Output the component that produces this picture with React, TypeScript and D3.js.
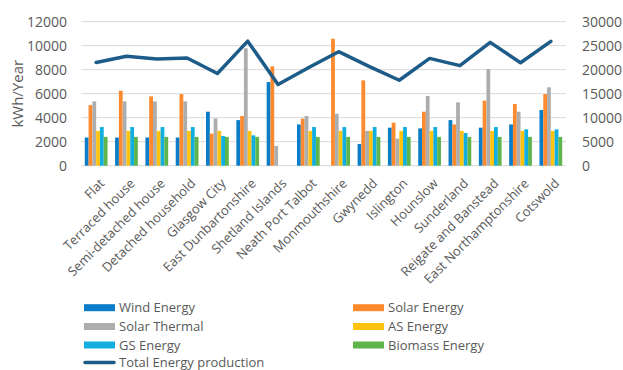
import React from "react";
import * as d3 from "d3";

const categories = [
  "Flat",
  "Terraced house",
  "Semi-detached house",
  "Detached household",
  "Glasgow City",
  "East Dunbartonshire",
  "Shetland Islands",
  "Neath Port Talbot",
  "Monmouthshire",
  "Gwynedd",
  "Islington",
  "Hounslow",
  "Sunderland",
  "Reigate and Banstead",
  "East Northamptonshire",
  "Cotswold",
];

const windEnergy = [2350, 2350, 2350, 2350, 4500, 3800, 6970, 3440, 0, 1810, 3170, 3110, 3800, 3170, 3440, 4640];
const solarEnergy = [5050, 6250, 5780, 5970, 2670, 4140, 8280, 3920, 10580, 7110, 3580, 4500, 3440, 5420, 5140, 5970];
const solarThermal = [5360, 5360, 5360, 5360, 3940, 9780, 1640, 4140, 4330, 2900, 2250, 5810, 5280, 8060, 4500, 6530];
const asEnergy = [2900, 2900, 2900, 2900, 2900, 2900, 0, 2900, 2900, 2900, 2900, 2900, 2900, 2900, 2900, 2900];
const gsEnergy = [3220, 3220, 3220, 3220, 2470, 2530, 0, 3220, 3220, 3220, 3220, 3220, 2720, 3220, 3030, 3030];
const biomassEnergy = [2400, 2400, 2400, 2400, 2400, 2400, 0, 2400, 2400, 2400, 2400, 2400, 2400, 2400, 2400, 2400];
const totalEnergy = [21500, 22800, 22250, 22450, 19200, 25950, 16900, 20400, 23750, 20700, 17800, 22350, 20850, 25700, 21450, 25900];

const leftTicks = [0, 2000, 4000, 6000, 8000, 10000, 12000];
const rightTicks = [0, 5000, 10000, 15000, 20000, 25000, 30000];

const barSeries = [
  { name: "Wind Energy", values: windEnergy, color: "#0a7cc8" },
  { name: "Solar Energy", values: solarEnergy, color: "#fd8a2e" },
  { name: "Solar Thermal", values: solarThermal, color: "#adadad" },
  { name: "AS Energy", values: asEnergy, color: "#ffc20e" },
  { name: "GS Energy", values: gsEnergy, color: "#12aee0" },
  { name: "Biomass Energy", values: biomassEnergy, color: "#5fb54b" },
];
const lineName = "Total Energy production";
const lineColor = "#1d5b88";

const W = 623;
const H = 370;
const M = { left: 81, right: 566, top: 21.7, bottom: 165.7 };
const FONT = "'Open Sans', sans-serif";
const TEXT = "#595959";

export default function App() {
  const x = d3.scaleBand<string>().domain(categories).range([M.left, M.right]).paddingInner(0.25).paddingOuter(0.125);
  const x1 = d3
    .scaleBand<string>()
    .domain(barSeries.map((s) => s.name))
    .range([0, x.bandwidth()]);
  const yL = d3.scaleLinear().domain([0, 12000]).range([M.bottom, M.top]);
  const yR = d3.scaleLinear().domain([0, 30000]).range([M.bottom, M.top]);

  const cx = (c: string) => (x(c) ?? 0) + x.bandwidth() / 2;
  const line = d3
    .line<number>()
    .x((_, i) => cx(categories[i]))
    .y((v) => yR(v));

  const legendItems = [
    ...barSeries.map((s) => ({ name: s.name, color: s.color, isLine: false })),
    { name: lineName, color: lineColor, isLine: true },
  ];
  const legendRows = [307.7, 326.5, 345, 362.5];
  const legendCols = [84, 353];

  return (
    <div style={{ position: "absolute", left: 0, top: 0 }}>
      <svg width={W} height={H} style={{ display: "block", background: "#fff" }}>
        {/* grid */}
        {leftTicks.map((t) => (
          <line key={t} x1={M.left} x2={M.right} y1={yL(t)} y2={yL(t)} stroke="#d9d9d9" strokeWidth={1} />
        ))}
        {/* left axis labels */}
        {leftTicks.map((t) => (
          <text key={t} x={67} y={yL(t)} dy="0.35em" textAnchor="end" fontFamily={FONT} fontSize={14} fill={TEXT}>
            {t}
          </text>
        ))}
        {/* right axis labels */}
        {rightTicks.map((t) => (
          <text key={t} x={582} y={yR(t)} dy="0.35em" textAnchor="start" fontFamily={FONT} fontSize={14} fill={TEXT}>
            {t}
          </text>
        ))}
        <text
          transform={`translate(18, ${(M.top + M.bottom) / 2}) rotate(-90)`}
          textAnchor="middle"
          dy="0.35em"
          fontFamily={FONT}
          fontSize={15}
          fill={TEXT}
        >
          kWh/Year
        </text>
        {/* bars */}
        {categories.map((c, i) => (
          <g key={c} transform={`translate(${x(c)},0)`}>
            {barSeries.map((s) =>
              s.values[i] > 0 ? (
                <rect
                  key={s.name}
                  x={x1(s.name)}
                  y={yL(s.values[i])}
                  width={x1.bandwidth()}
                  height={M.bottom - yL(s.values[i])}
                  fill={s.color}
                />
              ) : null
            )}
          </g>
        ))}
        {/* total line */}
        <path d={line(totalEnergy) ?? ""} fill="none" stroke={lineColor} strokeWidth={3.5} strokeLinejoin="round" strokeLinecap="round" />
        {/* category labels */}
        {categories.map((c) => (
          <text
            key={c}
            transform={`translate(${cx(c) + 6}, 181) rotate(-45)`}
            textAnchor="end"
            dy="0.35em"
            fontFamily={FONT}
            fontSize={13}
            fill={TEXT}
          >
            {c}
          </text>
        ))}
        {/* legend */}
        {legendItems.map((item, i) => {
          const col = item.isLine ? 0 : i % 2;
          const row = item.isLine ? 3 : Math.floor(i / 2);
          const lx = legendCols[col];
          const ly = legendRows[row];
          return (
            <g key={item.name}>
              {item.isLine ? (
                <line x1={lx + 1} x2={lx + 30} y1={ly} y2={ly} stroke={item.color} strokeWidth={3.5} strokeLinecap="round" />
              ) : (
                <rect x={lx} y={ly - 3.5} width={31} height={7} fill={item.color} />
              )}
              <text x={lx + 35} y={ly} dy="0.35em" fontFamily={FONT} fontSize={13} fill={TEXT}>
                {item.name}
              </text>
            </g>
          );
        })}
      </svg>
    </div>
  );
}
